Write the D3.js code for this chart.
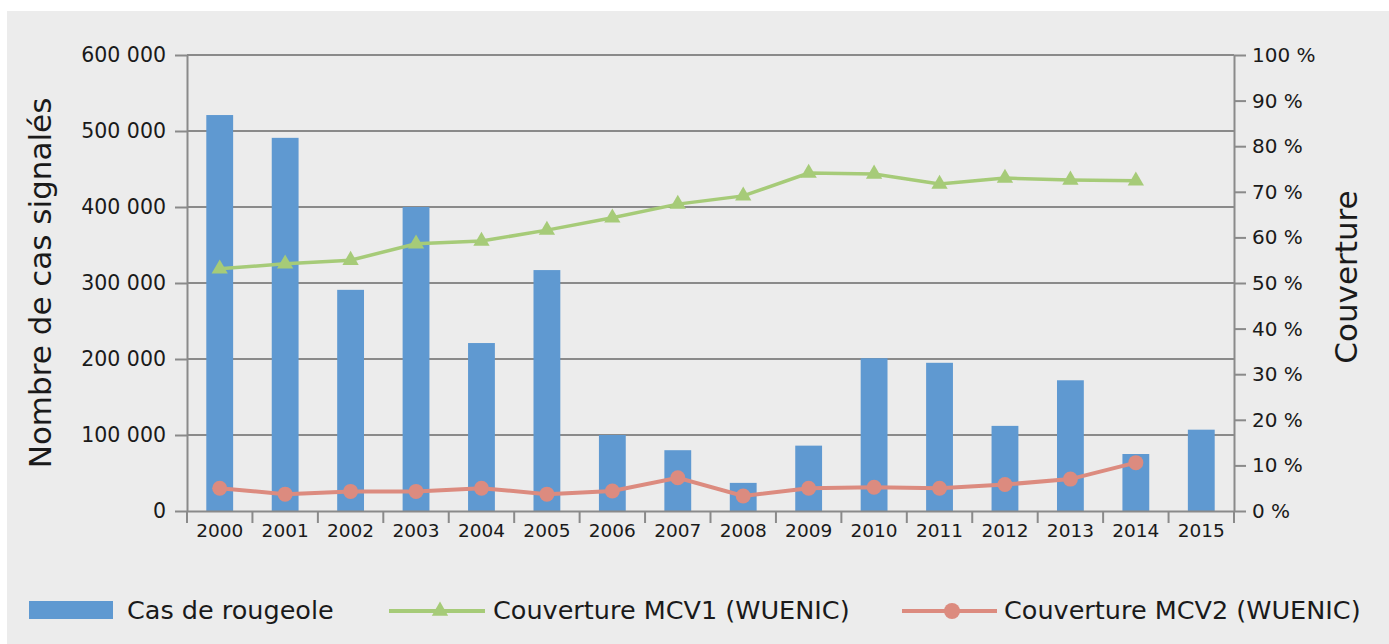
<!DOCTYPE html>
<html lang="fr">
<head>
  <meta charset="utf-8">
  <title>Rougeole</title>
  <script src="https://cdnjs.cloudflare.com/ajax/libs/d3/7.8.5/d3.min.js"></script>
  <style type="text/css">
    body { margin: 0; background: #fff; }
    text { font-family: "DejaVu Sans", sans-serif; fill: #1a1a1a; }
  </style>
</head>
<body>
<script type="text/javascript">

var width = 1389;
var height = 644;

// data
var years = ["2000","2001","2002","2003","2004","2005","2006","2007","2008","2009","2010","2011","2012","2013","2014","2015"];
var cases = [521000, 491000, 291000, 400000, 221000, 317000, 100000, 80000, 37000, 86000, 201000, 195000, 112000, 172000, 75000, 107000];
var mcv1 = [53.1, 54.2, 55.0, 58.6, 59.2, 61.6, 64.3, 67.3, 69.1, 74.1, 73.9, 71.7, 73.0, 72.6, 72.4, null];
var mcv2 = [5.0, 3.7, 4.3, 4.3, 5.0, 3.7, 4.4, 7.3, 3.3, 5.0, 5.2, 5.0, 5.8, 7.0, 10.6, null];
var leftTicks = [0, 100000, 200000, 300000, 400000, 500000, 600000];
var rightTicks = [0, 10, 20, 30, 40, 50, 60, 70, 80, 90, 100];
var legendLabels = ["Cas de rougeole", "Couverture MCV1 (WUENIC)", "Couverture MCV2 (WUENIC)"];

var blue = "#5f99d1", green = "#a6cb78", red = "#dc8b7f", grey = "#8a8a8a";

var plot = {left: 187, right: 1234, top: 55, bottom: 511};

var svg = d3.select("body").append("svg")
    .attr("width", width)
    .attr("height", height);

// panel
svg.append("rect")
    .attr("x", 7).attr("y", 11)
    .attr("width", width - 7).attr("height", height - 11)
    .attr("fill", "#ececec");

var xOuter = d3.scaleBand().domain(years).range([plot.left, plot.right]).padding(0);
var x = d3.scaleBand().domain(years).range([plot.left, plot.right]).paddingInner(0.59).paddingOuter(0.295);
var yLeft = d3.scaleLinear().domain([0, 600000]).range([plot.bottom, plot.top]);
var yRight = d3.scaleLinear().domain([0, 100]).range([plot.bottom, plot.top]);

// gridlines
svg.append("g").selectAll("line")
    .data(leftTicks.filter(function(d){ return d > 0; }))
    .enter().append("line")
    .attr("x1", plot.left).attr("x2", plot.right)
    .attr("y1", function(d){ return yLeft(d); })
    .attr("y2", function(d){ return yLeft(d); })
    .attr("stroke", grey).attr("stroke-width", 2);

// bars
svg.append("g").selectAll("rect")
    .data(years)
    .enter().append("rect")
    .attr("x", function(d){ return x(d); })
    .attr("width", x.bandwidth())
    .attr("y", function(d, i){ return yLeft(cases[i]); })
    .attr("height", function(d, i){ return plot.bottom - yLeft(cases[i]); })
    .attr("fill", blue);

function styleAxis(g) {
    g.selectAll(".domain").attr("stroke", grey).attr("stroke-width", 2);
    g.selectAll(".tick line").attr("stroke", grey).attr("stroke-width", 2);
    g.selectAll("text").attr("fill", "#1a1a1a").style("font-family", "DejaVu Sans");
}

// left axis
var fmt = function(d){ return d3.format(",")(d).replace(/,/g, " "); };
var gLeft = svg.append("g")
    .attr("transform", "translate(" + plot.left + ",0)")
    .call(d3.axisLeft(yLeft).tickValues(leftTicks).tickFormat(fmt).tickSize(12).tickSizeOuter(0).tickPadding(9));
gLeft.selectAll("text").style("font-size", "20.5px");
styleAxis(gLeft);

// right axis
var gRight = svg.append("g")
    .attr("transform", "translate(" + plot.right + ",0)")
    .call(d3.axisRight(yRight).tickValues(rightTicks).tickFormat(function(d){ return d + " %"; }).tickSize(12).tickSizeOuter(0).tickPadding(6));
gRight.selectAll("text").style("font-size", "20px");
styleAxis(gRight);

// bottom axis
var gBottom = svg.append("g")
    .attr("transform", "translate(0," + plot.bottom + ")")
    .call(d3.axisBottom(xOuter).tickSize(0).tickSizeOuter(0).tickPadding(13));
gBottom.selectAll("text").style("font-size", "18.5px");
styleAxis(gBottom);
gBottom.selectAll(".tick line").remove();
gBottom.selectAll(".sep")
    .data(years.concat(["end"]))
    .enter().append("line")
    .attr("class", "sep")
    .attr("x1", function(d){ return d === "end" ? plot.right : xOuter(d); })
    .attr("x2", function(d){ return d === "end" ? plot.right : xOuter(d); })
    .attr("y1", 0).attr("y2", 12)
    .attr("stroke", grey).attr("stroke-width", 2);

// lines
var cx = function(i){ return x(years[i]) + x.bandwidth() / 2; };
function lineFor(vals) {
    return d3.line()
        .defined(function(d){ return d !== null; })
        .x(function(d, i){ return cx(i); })
        .y(function(d){ return yRight(d); })(vals);
}

svg.append("path")
    .attr("d", lineFor(mcv1))
    .attr("fill", "none").attr("stroke", green).attr("stroke-width", 3.5);
svg.append("g").selectAll("path")
    .data(mcv1.map(function(v, i){ return {v: v, i: i}; }).filter(function(d){ return d.v !== null; }))
    .enter().append("path")
    .attr("d", d3.symbol().type(d3.symbolTriangle).size(115))
    .attr("transform", function(d){ return "translate(" + cx(d.i) + "," + yRight(d.v) + ")"; })
    .attr("fill", green);

svg.append("path")
    .attr("d", lineFor(mcv2))
    .attr("fill", "none").attr("stroke", red).attr("stroke-width", 4);
svg.append("g").selectAll("circle")
    .data(mcv2.map(function(v, i){ return {v: v, i: i}; }).filter(function(d){ return d.v !== null; }))
    .enter().append("circle")
    .attr("cx", function(d){ return cx(d.i); })
    .attr("cy", function(d){ return yRight(d.v); })
    .attr("r", 7.5)
    .attr("fill", red);

// axis titles
svg.append("text")
    .attr("transform", "translate(51," + ((plot.top + plot.bottom) / 2) + ") rotate(-90)")
    .attr("text-anchor", "middle")
    .style("font-size", "31px")
    .text("Nombre de cas signalés");
svg.append("text")
    .attr("transform", "translate(1357,277) rotate(-90)")
    .attr("text-anchor", "middle")
    .style("font-size", "31px")
    .text("Couverture");

// legend
var ly = 610;
var legend = svg.append("g");
legend.append("rect")
    .attr("x", 29).attr("y", ly - 9).attr("width", 84).attr("height", 18)
    .attr("fill", blue);
legend.append("line")
    .attr("x1", 389).attr("x2", 485).attr("y1", ly + 1).attr("y2", ly + 1)
    .attr("stroke", green).attr("stroke-width", 4);
legend.append("path")
    .attr("d", d3.symbol().type(d3.symbolTriangle).size(115))
    .attr("transform", "translate(440," + (ly + 1) + ")")
    .attr("fill", green);
legend.append("line")
    .attr("x1", 902).attr("x2", 997).attr("y1", ly + 1).attr("y2", ly + 1)
    .attr("stroke", red).attr("stroke-width", 4);
legend.append("circle")
    .attr("cx", 952).attr("cy", ly + 1).attr("r", 8)
    .attr("fill", red);
var legendX = [127, 493, 1004];
legend.selectAll("text")
    .data(legendLabels)
    .enter().append("text")
    .attr("x", function(d, i){ return legendX[i]; })
    .attr("y", ly + 9)
    .style("font-size", "25.5px")
    .text(function(d){ return d; });

</script>
</body>
</html>
